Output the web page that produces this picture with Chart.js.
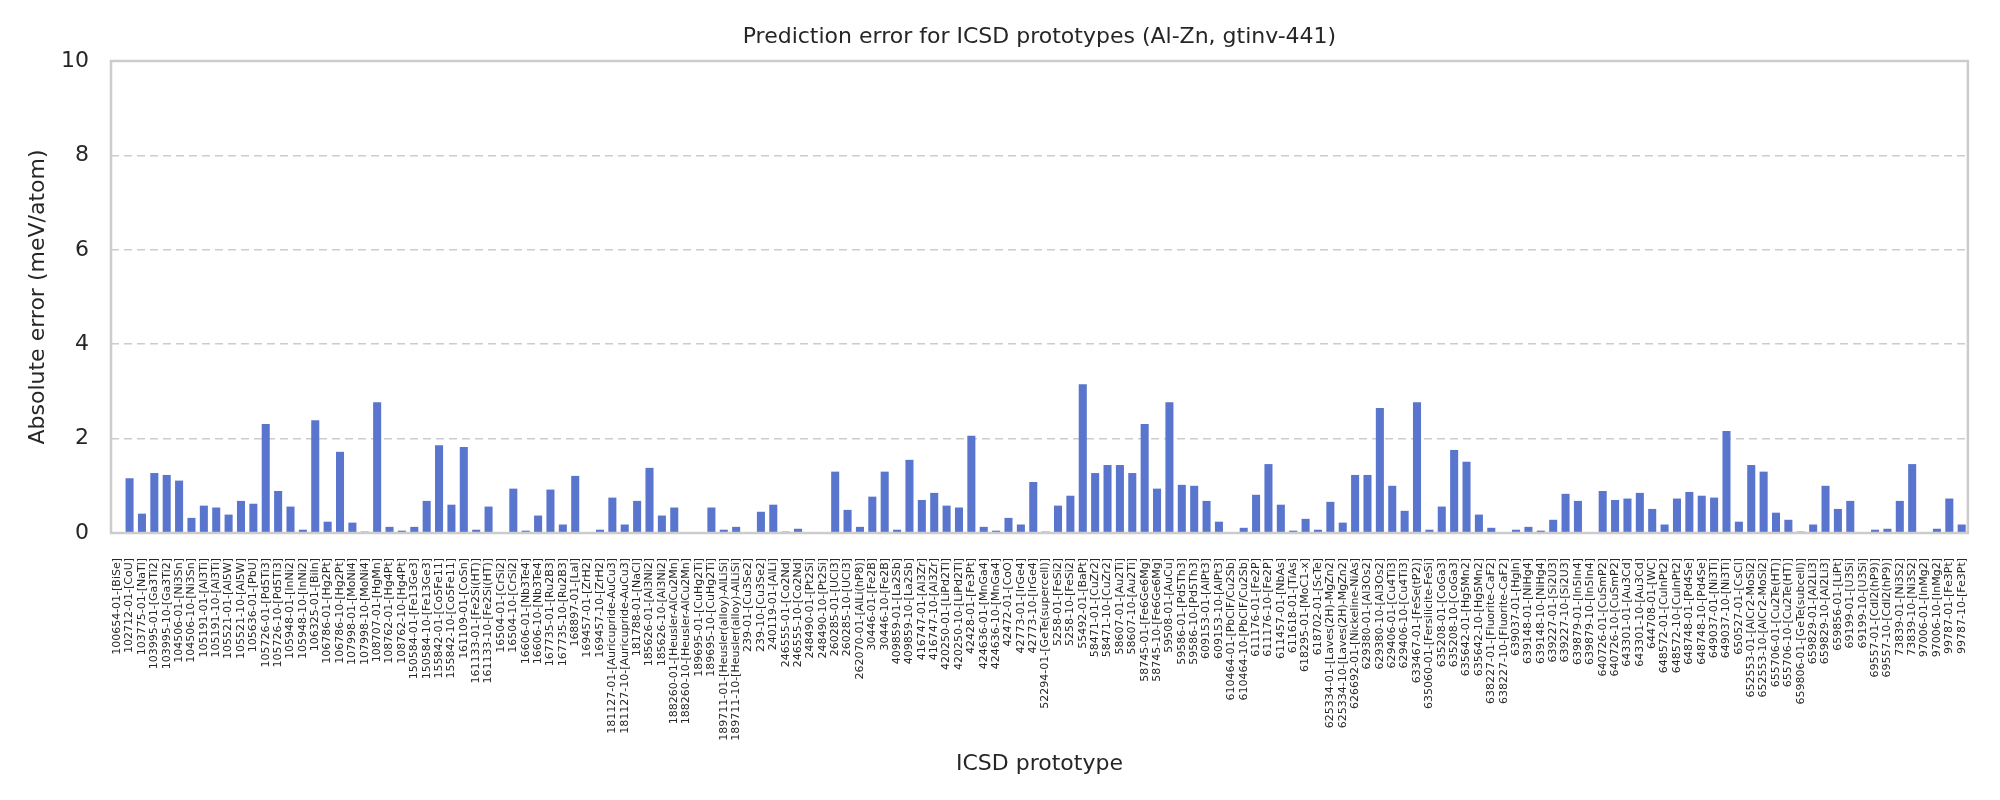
<!DOCTYPE html>
<html>
<head>
<meta charset="utf-8">
<script src="https://cdn.jsdelivr.net/npm/chart.js@4"></script>
<style>
  body { margin: 0; background: #fff; }
  canvas { display: block; }
</style>
</head>
<body>
<canvas id="chart" width="2000" height="800"></canvas>
<script>
const prototypes = [
  '100654-01-[BiSe]', '102712-01-[CoU]', '103775-01-[NaTl]', '103995-01-[Ga3Ti2]', '103995-10-[Ga3Ti2]',
  '104506-01-[Ni3Sn]', '104506-10-[Ni3Sn]', '105191-01-[Al3Ti]', '105191-10-[Al3Ti]', '105521-01-[Al5W]',
  '105521-10-[Al5W]', '105636-01-[PbU]', '105726-01-[Pd5Ti3]', '105726-10-[Pd5Ti3]', '105948-01-[InNi2]',
  '105948-10-[InNi2]', '106325-01-[BiIn]', '106786-01-[Hg2Pt]', '106786-10-[Hg2Pt]', '107998-01-[MoNi4]',
  '107998-10-[MoNi4]', '108707-01-[HgMn]', '108762-01-[Hg4Pt]', '108762-10-[Hg4Pt]', '150584-01-[Fe13Ge3]',
  '150584-10-[Fe13Ge3]', '155842-01-[Co5Fe11]', '155842-10-[Co5Fe11]', '161109-01-[CoSn]', '161133-01-[Fe2Si(HT)]',
  '161133-10-[Fe2Si(HT)]', '16504-01-[CrSi2]', '16504-10-[CrSi2]', '16606-01-[Nb3Te4]', '16606-10-[Nb3Te4]',
  '167735-01-[Ru2B3]', '167735-10-[Ru2B3]', '168897-01-[LaI]', '169457-01-[ZrH2]', '169457-10-[ZrH2]',
  '181127-01-[Auricupride-AuCu3]', '181127-10-[Auricupride-AuCu3]', '181788-01-[NaCl]', '185626-01-[Al3Ni2]', '185626-10-[Al3Ni2]',
  '188260-01-[Heusler-AlCu2Mn]', '188260-10-[Heusler-AlCu2Mn]', '189695-01-[CuHg2Ti]', '189695-10-[CuHg2Ti]', '189711-01-[Heusler(alloy)-AlLiSi]',
  '189711-10-[Heusler(alloy)-AlLiSi]', '239-01-[Cu3Se2]', '239-10-[Cu3Se2]', '240119-01-[AlLi]', '246555-01-[Co2Nd]',
  '246555-10-[Co2Nd]', '248490-01-[Pt2Si]', '248490-10-[Pt2Si]', '260285-01-[UCl3]', '260285-10-[UCl3]',
  '262070-01-[AlLi(hP8)]', '30446-01-[Fe2B]', '30446-10-[Fe2B]', '409859-01-[La2Sb]', '409859-10-[La2Sb]',
  '416747-01-[Al3Zr]', '416747-10-[Al3Zr]', '420250-01-[LiPd2Tl]', '420250-10-[LiPd2Tl]', '42428-01-[Fe3Pt]',
  '424636-01-[MnGa4]', '424636-10-[MnGa4]', '42472-01-[CoO]', '42773-01-[IrGe4]', '42773-10-[IrGe4]',
  '52294-01-[GeTe(supercell)]', '5258-01-[FeSi2]', '5258-10-[FeSi2]', '55492-01-[BaPt]', '58471-01-[CuZr2]',
  '58471-10-[CuZr2]', '58607-01-[Au2Ti]', '58607-10-[Au2Ti]', '58745-01-[Fe6Ge6Mg]', '58745-10-[Fe6Ge6Mg]',
  '59508-01-[AuCu]', '59586-01-[Pd5Th3]', '59586-10-[Pd5Th3]', '609153-01-[AlPt3]', '609153-10-[AlPt3]',
  '610464-01-[PbClF/Cu2Sb]', '610464-10-[PbClF/Cu2Sb]', '611176-01-[Fe2P]', '611176-10-[Fe2P]', '611457-01-[NbAs]',
  '611618-01-[TiAs]', '618295-01-[MoC1-x]', '618702-01-[ScTe]', '625334-01-[Laves(2H)-MgZn2]', '625334-10-[Laves(2H)-MgZn2]',
  '626692-01-[Nickeline-NiAs]', '629380-01-[Al3Os2]', '629380-10-[Al3Os2]', '629406-01-[Cu4Ti3]', '629406-10-[Cu4Ti3]',
  '633467-01-[FeSe(tP2)]', '635060-01-[Fersilicite-FeSi]', '635208-01-[CoGa3]', '635208-10-[CoGa3]', '635642-01-[Hg5Mn2]',
  '635642-10-[Hg5Mn2]', '638227-01-[Fluorite-CaF2]', '638227-10-[Fluorite-CaF2]', '639037-01-[HgIn]', '639148-01-[NiHg4]',
  '639148-10-[NiHg4]', '639227-01-[Si2U3]', '639227-10-[Si2U3]', '639879-01-[In5In4]', '639879-10-[In5In4]',
  '640726-01-[CuSmP2]', '640726-10-[CuSmP2]', '643301-01-[Au3Cd]', '643301-10-[Au3Cd]', '644708-01-[WC]',
  '648572-01-[CuInPt2]', '648572-10-[CuInPt2]', '648748-01-[Pd4Se]', '648748-10-[Pd4Se]', '649037-01-[Ni3Ti]',
  '649037-10-[Ni3Ti]', '650527-01-[CsCl]', '652553-01-[AlCr2-MoSi2]', '652553-10-[AlCr2-MoSi2]', '655706-01-[Cu2Te(HT)]',
  '655706-10-[Cu2Te(HT)]', '659806-01-[GeTe(subcell)]', '659829-01-[Al2Li3]', '659829-10-[Al2Li3]', '659856-01-[LiPt]',
  '69199-01-[U3Si]', '69199-10-[U3Si]', '69557-01-[CdI2(hP9)]', '69557-10-[CdI2(hP9)]', '73839-01-[Ni3S2]',
  '73839-10-[Ni3S2]', '97006-01-[InMg2]', '97006-10-[InMg2]', '99787-01-[Fe3Pt]', '99787-10-[Fe3Pt]'
];

// absolute error, meV/atom
const absError = [
  0.00, 1.16, 0.41, 1.27, 1.23, 1.11, 0.32, 0.58, 0.54, 0.39,
  0.68, 0.62, 2.31, 0.89, 0.56, 0.07, 2.39, 0.24, 1.72, 0.22,
  0.03, 2.77, 0.13, 0.05, 0.13, 0.68, 1.86, 0.60, 1.82, 0.07,
  0.56, 0.00, 0.94, 0.05, 0.37, 0.92, 0.18, 1.21, 0.00, 0.07,
  0.75, 0.18, 0.68, 1.38, 0.37, 0.54, 0.00, 0.00, 0.54, 0.07,
  0.13, 0.00, 0.45, 0.60, 0.03, 0.09, 0.00, 0.01, 1.30, 0.49,
  0.13, 0.77, 1.30, 0.07, 1.55, 0.70, 0.85, 0.58, 0.54, 2.06,
  0.13, 0.05, 0.32, 0.18, 1.08, 0.03, 0.58, 0.79, 3.15, 1.27,
  1.44, 1.44, 1.27, 2.31, 0.94, 2.77, 1.02, 1.00, 0.68, 0.24,
  0.00, 0.11, 0.81, 1.46, 0.60, 0.05, 0.30, 0.07, 0.66, 0.22,
  1.23, 1.23, 2.65, 1.00, 0.47, 2.77, 0.07, 0.56, 1.76, 1.51,
  0.39, 0.11, 0.00, 0.07, 0.13, 0.05, 0.28, 0.83, 0.68, 0.00,
  0.89, 0.70, 0.73, 0.85, 0.51, 0.18, 0.73, 0.87, 0.79, 0.75,
  2.16, 0.24, 1.44, 1.30, 0.43, 0.28, 0.03, 0.18, 1.00, 0.51,
  0.68, 0.00, 0.07, 0.09, 0.68, 1.46, 0.00, 0.09, 0.73, 0.18
];

const yTicks = [0, 2, 4, 6, 8, 10];

const FONT = 'DejaVu Sans';
const TEXT = '#262626';
const EDGE = '#cccccc';

// draw the four-sided frame on top of the bars
const frame = {
  id: 'frame',
  afterDatasetsDraw(chart) {
    const a = chart.chartArea;
    const ctx = chart.ctx;
    ctx.save();
    ctx.strokeStyle = EDGE;
    ctx.lineWidth = 2.5;
    ctx.strokeRect(a.left, a.top, a.right - a.left, a.bottom - a.top);
    ctx.restore();
  }
};

new Chart(document.getElementById('chart').getContext('2d'), {
  type: 'bar',
  data: {
    labels: prototypes,
    datasets: [{
      label: 'Absolute error',
      data: absError,
      backgroundColor: '#5975cd',
      borderWidth: 0,
      categoryPercentage: 1.0,
      barPercentage: 0.65
    }]
  },
  options: {
    responsive: false,
    animation: false,
    layout: { padding: { left: 0, right: 29, top: 0, bottom: 0 } },
    plugins: {
      legend: { display: false },
      tooltip: { enabled: false },
      title: {
        display: true,
        fullSize: false,
        text: 'Prediction error for ICSD prototypes (Al-Zn, gtinv-441)',
        color: TEXT,
        font: { family: FONT, size: 22, weight: 'normal' },
        padding: { top: 24, bottom: 10.6 }
      }
    },
    scales: {
      x: {
        grid: { display: false, drawTicks: false },
        border: { display: false },
        ticks: {
          autoSkip: false,
          maxRotation: 90,
          minRotation: 90,
          padding: 25,
          color: TEXT,
          font: { family: FONT, size: 11 }
        },
        title: {
          display: true,
          text: 'ICSD prototype',
          color: TEXT,
          font: { family: FONT, size: 22 },
          padding: { top: 0, bottom: 23 }
        },
        afterFit(scale) { scale.height = 267; }
      },
      y: {
        min: 0,
        max: 10,
        afterBuildTicks(scale) { scale.ticks = yTicks.map(v => ({ value: v })); },
        grid: {
          color: EDGE,
          lineWidth: 1.6,
          drawTicks: false
        },
        border: { display: false, dash: [8, 5] },
        ticks: {
          padding: 22,
          color: TEXT,
          font: { family: FONT, size: 22 }
        },
        title: {
          display: true,
          text: 'Absolute error (meV/atom)',
          color: TEXT,
          font: { family: FONT, size: 22 },
          padding: { top: 25, bottom: 0 }
        },
        afterFit(scale) { scale.width = 111; }
      }
    }
  },
  plugins: [frame]
});
</script>
</body>
</html>
